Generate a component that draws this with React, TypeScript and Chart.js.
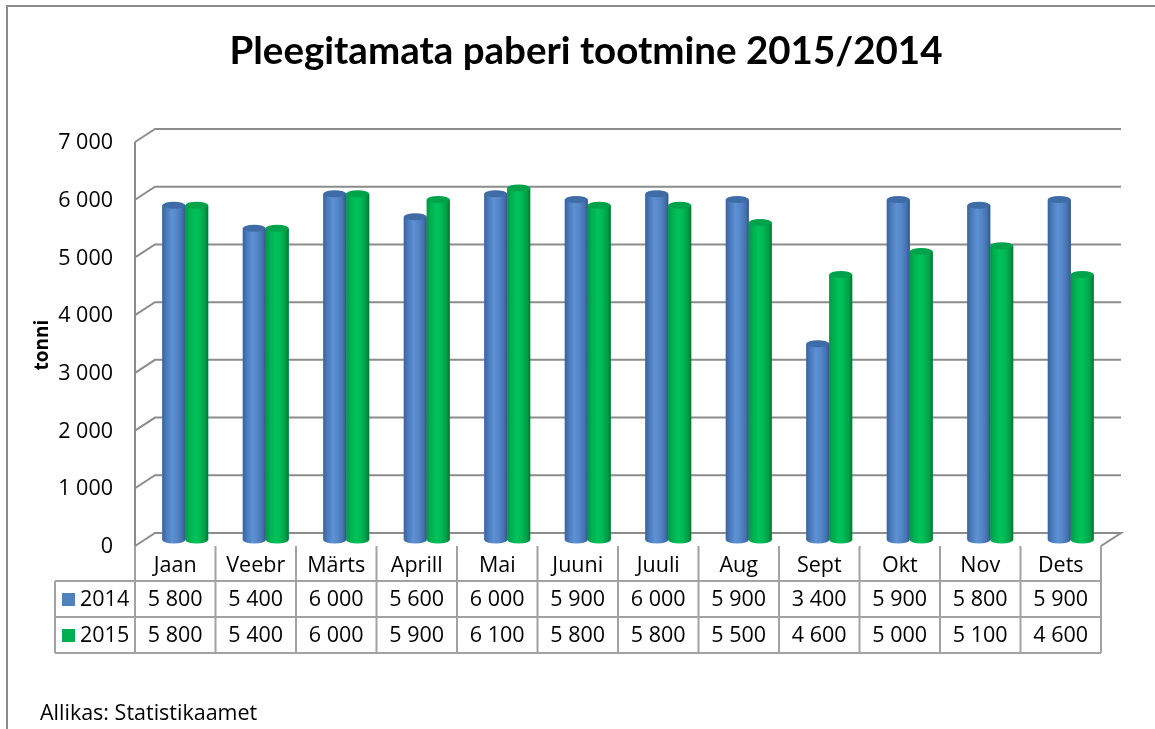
import React, { useEffect, useRef } from "react";
import { Chart, registerables } from "chart.js";

Chart.register(...registerables);

const categories = ["Jaan", "Veebr", "Märts", "Aprill", "Mai", "Juuni", "Juuli", "Aug", "Sept", "Okt", "Nov", "Dets"];
const series2014 = [5800, 5400, 6000, 5600, 6000, 5900, 6000, 5900, 3400, 5900, 5800, 5900];
const series2015 = [5800, 5400, 6000, 5900, 6100, 5800, 5800, 5500, 4600, 5000, 5100, 4600];
const seriesNames = ["2014", "2015"];
const yTicks = [0, 1000, 2000, 3000, 4000, 5000, 6000, 7000];
const titleText = "Pleegitamata paberi tootmine 2015/2014";
const yTitle = "tonni";
const sourceText = "Allikas: Statistikaamet";

const FONT = '"Open Sans", Lato, sans-serif';
const TITLE_FONT = 'Lato, "Open Sans", sans-serif';
const GRID = "#8c8c8c";
const TABLE = "#a2a2a2";
const BASE_COLORS = ["#4F81BD", "#00B050"];
const STOPS = [
  [
    [0, "#3a639e"],
    [0.18, "#4a7bbb"],
    [0.42, "#5d91d4"],
    [0.62, "#5587c9"],
    [0.86, "#4472ae"],
    [1, "#325685"],
  ],
  [
    [0, "#00984a"],
    [0.18, "#00b04f"],
    [0.42, "#00c25a"],
    [0.62, "#00ba55"],
    [0.86, "#009e47"],
    [1, "#007534"],
  ],
];
const TOP_COLORS = ["#3f6ca6", "#00a24a"];

function fmt(n: number): string {
  if (n < 1000) return String(n);
  return `${Math.floor(n / 1000)} ${String(n % 1000).padStart(3, "0")}`;
}

const FO = 6; // front plane offset (y)
const BO = -7; // back plane offset (y)
const DX = 10; // half depth offset (x)
const TXT = 21.5;

const framePlugin = {
  id: "frame3d",
  beforeDatasetsDraw(chart: any) {
    const { ctx, chartArea: ca, scales } = chart;
    const y = scales.y;
    const fL = ca.left - DX;
    const fR = ca.right - DX;
    const bL = ca.left + DX;
    const bR = ca.right + DX;
    ctx.save();
    ctx.strokeStyle = GRID;
    ctx.lineWidth = 2;
    for (const v of yTicks) {
      const yp = y.getPixelForValue(v);
      ctx.beginPath();
      ctx.moveTo(fL, yp + FO);
      ctx.lineTo(bL, yp + BO);
      ctx.lineTo(bR, yp + BO);
      if (v === 0) ctx.lineTo(fR, yp + FO);
      ctx.stroke();
    }
    ctx.beginPath();
    ctx.moveTo(fL, y.getPixelForValue(yTicks[yTicks.length - 1]) + FO);
    ctx.lineTo(fL, y.getPixelForValue(0) + FO);
    ctx.stroke();

    // tick labels
    ctx.fillStyle = "#000";
    ctx.font = `${TXT}px ${FONT}`;
    ctx.textAlign = "right";
    ctx.textBaseline = "middle";
    for (const v of yTicks) {
      ctx.fillText(fmt(v), fL - 22, y.getPixelForValue(v) + FO + 1);
    }
    ctx.restore();
  },
  afterDatasetsDraw(chart: any) {
    const { ctx } = chart;
    ctx.save();
    const n = categories.length;
    for (let i = 0; i < n; i++) {
      chart.data.datasets.forEach((_: any, di: number) => {
        const meta = chart.getDatasetMeta(di);
        const el = meta.data[i];
        if (!el) return;
        const p = el.getProps(["x", "y", "base", "width"], true);
        const w = p.width;
        const left = p.x - w / 2;
        const ry = 3.5;
        const g = ctx.createLinearGradient(left, 0, left + w, 0);
        for (const [o, c] of STOPS[di]) g.addColorStop(o as number, c as string);
        ctx.fillStyle = g;
        ctx.beginPath();
        ctx.moveTo(left, p.y);
        ctx.lineTo(left, p.base);
        ctx.ellipse(p.x, p.base, w / 2, ry, 0, Math.PI, 0, true);
        ctx.lineTo(left + w, p.y);
        ctx.closePath();
        ctx.fill();
        ctx.beginPath();
        ctx.ellipse(p.x, p.y, w / 2, ry, 0, 0, Math.PI * 2);
        ctx.fillStyle = TOP_COLORS[di];
        ctx.fill();
      });
    }
    ctx.restore();
  },
  afterDraw(chart: any) {
    const { ctx, chartArea: ca, scales } = chart;
    const y = scales.y;
    const fL = ca.left - DX;
    const fR = ca.right - DX;
    const colW = (fR - fL) / categories.length;
    const top = y.getPixelForValue(0) + FO;
    const r1 = top + 35;
    const r2 = r1 + 36;
    const r3 = r2 + 36;
    const legL = 55;
    ctx.save();
    ctx.strokeStyle = TABLE;
    ctx.lineWidth = 2;
    ctx.beginPath();
    for (let i = 0; i <= categories.length; i++) {
      const x = fL + i * colW;
      ctx.moveTo(x, top);
      ctx.lineTo(x, r3);
    }
    for (const yy of [r1, r2, r3]) {
      ctx.moveTo(legL, yy);
      ctx.lineTo(fR, yy);
    }
    ctx.moveTo(legL, r1);
    ctx.lineTo(legL, r3);
    ctx.stroke();

    ctx.fillStyle = "#000";
    ctx.font = `${TXT}px ${FONT}`;
    ctx.textAlign = "center";
    ctx.textBaseline = "middle";
    const rows = [series2014, series2015];
    categories.forEach((c, i) => {
      const cx = fL + (i + 0.5) * colW;
      ctx.fillText(c, cx, (top + r1) / 2 + 2);
      ctx.fillText(fmt(rows[0][i]), cx, (r1 + r2) / 2 + 1);
      ctx.fillText(fmt(rows[1][i]), cx, (r2 + r3) / 2 + 1);
    });
    // legend keys
    const rowMid = [(r1 + r2) / 2, (r2 + r3) / 2];
    seriesNames.forEach((s, i) => {
      ctx.fillStyle = BASE_COLORS[i];
      ctx.fillRect(62, rowMid[i] - 6, 13, 13);
      ctx.fillStyle = "#000";
      ctx.textAlign = "left";
      ctx.fillText(s, 80, rowMid[i] + 1);
    });

    // title
    ctx.font = `bold 38.5px ${TITLE_FONT}`;
    ctx.textAlign = "center";
    ctx.textBaseline = "middle";
    ctx.fillText(titleText, 586, 52);

    // y title
    ctx.save();
    ctx.translate(43, 345);
    ctx.rotate(-Math.PI / 2);
    ctx.font = `bold 19px ${FONT}`;
    ctx.fillText(yTitle, 0, 0);
    ctx.restore();

    // source
    ctx.font = `${TXT}px ${FONT}`;
    ctx.textAlign = "left";
    ctx.textBaseline = "alphabetic";
    ctx.fillText(sourceText, 40, 720);

    // outer border
    ctx.strokeStyle = GRID;
    ctx.lineWidth = 2;
    ctx.beginPath();
    ctx.moveTo(7, 740);
    ctx.lineTo(7, 6);
    ctx.lineTo(1160, 6);
    ctx.stroke();
    ctx.restore();
  },
};

export default function App() {
  const ref = useRef<HTMLCanvasElement | null>(null);
  useEffect(() => {
    if (!ref.current) return;
    const chart = new Chart(ref.current, {
      type: "bar",
      data: {
        labels: categories,
        datasets: [
          { label: seriesNames[0], data: series2014, backgroundColor: BASE_COLORS[0], borderWidth: 0 },
          { label: seriesNames[1], data: series2015, backgroundColor: BASE_COLORS[1], borderWidth: 0 },
        ],
      },
      options: {
        responsive: false,
        animation: false,
        layout: { padding: { left: 145, right: 44, top: 136, bottom: 189 } },
        datasets: { bar: { categoryPercentage: 0.57, barPercentage: 1 } },
        scales: {
          x: { display: false },
          y: { display: false, min: 0, max: 7000 },
        },
        plugins: { legend: { display: false }, tooltip: { enabled: false }, title: { display: false } },
      },
      plugins: [framePlugin],
    });
    return () => chart.destroy();
  }, []);
  return (
    <div style={{ position: "fixed", left: 0, top: 0, width: 1155, height: 729, background: "#fff" }}>
      <canvas ref={ref} width={1155} height={729} style={{ width: 1155, height: 729, display: "block" }} />
    </div>
  );
}
